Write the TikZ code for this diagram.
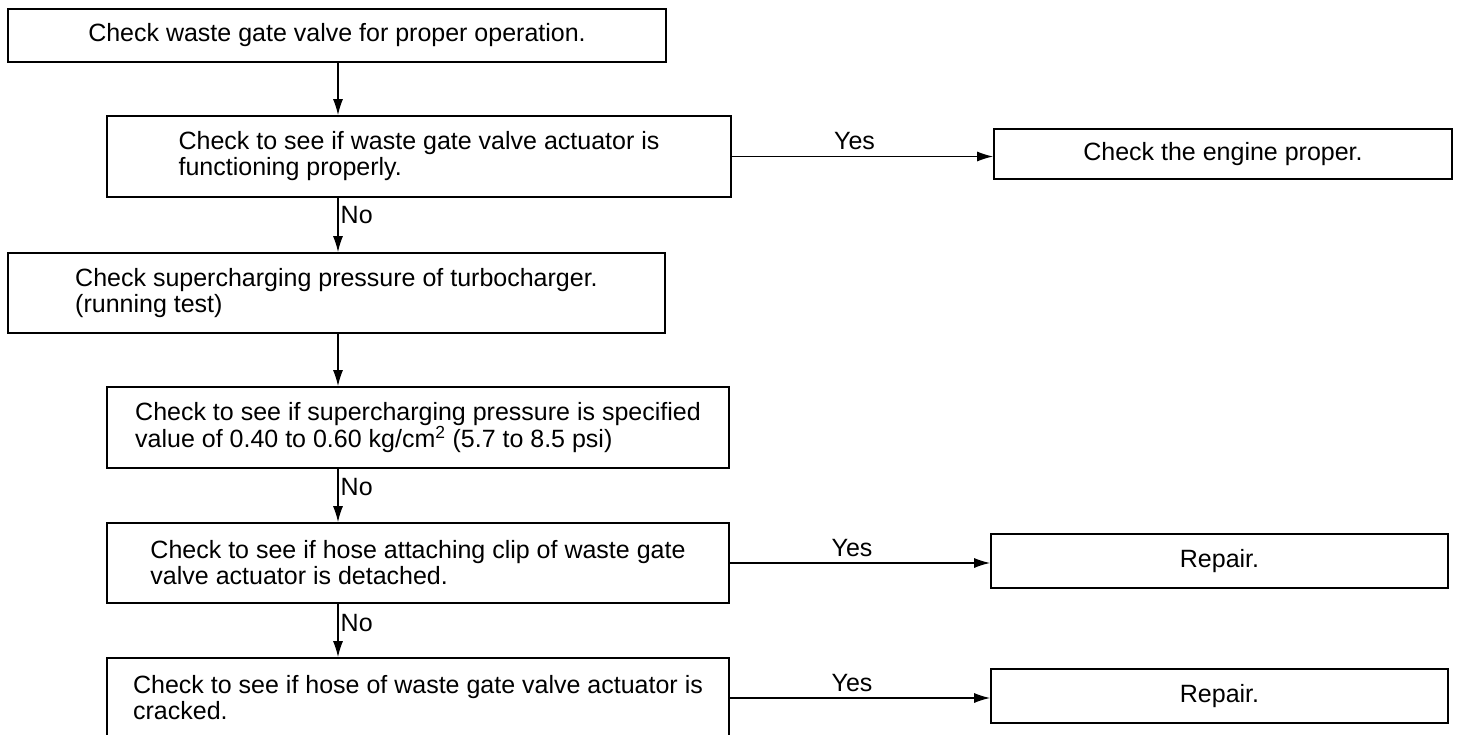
\documentclass[tikz,border=0pt]{standalone}
\usepackage{fontspec}
\setmainfont{Liberation Sans}
\usetikzlibrary{arrows.meta}
\begin{document}
\begin{tikzpicture}[x=1pt,y=-1pt,
  txtfont/.style={font=\fontsize{25}{26}\selectfont},
  box/.style={draw, line width=1.6pt, rectangle, inner sep=0pt, align=left, txtfont},
  arr/.style={line width=1.4pt, -{Latex[length=16pt,width=10pt]}},
  lbl/.style={txtfont, inner sep=2pt}]
\useasboundingbox (0,0) rectangle (1459,735);
\fill[white] (0,0) rectangle (1459,735);
\coordinate (spine) at (338,0);
% boxes
\node[box, minimum width=658pt, minimum height=53pt] (b1) at (337,35.5)
  {Check waste gate valve for proper operation.};
\node[box, minimum width=624pt, minimum height=81pt] (b2) at (419,156.5)
  {Check to see if waste gate valve actuator is\\functioning properly.};
\node[box, minimum width=458pt, minimum height=50pt] (b3) at (1223,154)
  {Check the engine proper.};
\node[box, minimum width=657pt, minimum height=80pt] (b4) at (336.5,293)
  {Check supercharging pressure of turbocharger.\\(running test)};
\node[box, minimum width=622pt, minimum height=81pt] (b5) at (418,427.5)
  {Check to see if supercharging pressure is specified\\value of 0.40 to 0.60 kg/cm\textsuperscript{2} (5.7 to 8.5 psi)};
\node[box, minimum width=622pt, minimum height=80pt] (b6) at (418,563)
  {Check to see if hose attaching clip of waste gate\\valve actuator is detached.};
\node[box, minimum width=457pt, minimum height=54pt] (r1) at (1219.5,561)
  {Repair.};
\node[box, minimum width=622pt, minimum height=80pt] (b7) at (418,698)
  {Check to see if hose of waste gate valve actuator is\\cracked.};
\node[box, minimum width=457pt, minimum height=54pt] (r2) at (1219.5,696)
  {Repair.};
% vertical connectors
\draw[arr] (spine |- b1.south) -- (spine |- b2.north);
\draw[arr] (spine |- b2.south) -- (spine |- b4.north)
  node[lbl, pos=0.32, anchor=west] {No};
\draw[arr] (spine |- b4.south) -- (spine |- b5.north);
\draw[arr] (spine |- b5.south) -- (spine |- b6.north)
  node[lbl, pos=0.35, anchor=west] {No};
\draw[arr] (spine |- b6.south) -- (spine |- b7.north)
  node[lbl, pos=0.36, anchor=west] {No};
% horizontal connectors
\draw[arr] (b2.east) -- (b2.east -| b3.west)
  node[lbl, midway, above=4pt, xshift=-8pt] {Yes};
\draw[arr] (b6.east) -- (b6.east -| r1.west)
  node[lbl, midway, above=4pt, xshift=-8pt] {Yes};
\draw[arr] (b7.east) -- (b7.east -| r2.west)
  node[lbl, midway, above=4pt, xshift=-8pt] {Yes};
\end{tikzpicture}
\end{document}
